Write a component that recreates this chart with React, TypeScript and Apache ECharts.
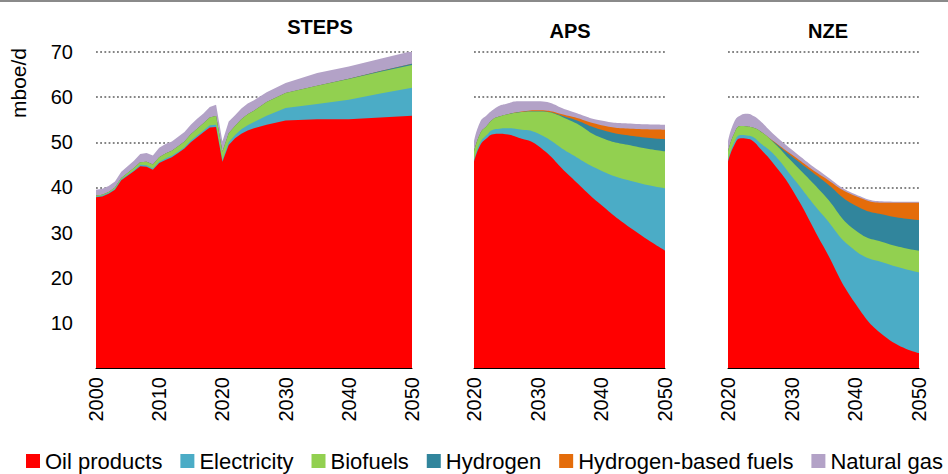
import React, { useEffect, useRef } from 'react';
import * as echarts from 'echarts';

const FONT = "'Liberation Sans', Arial, sans-serif";

const SERIES_NAMES = ['Oil products', 'Electricity', 'Biofuels', 'Hydrogen', 'Hydrogen-based fuels', 'Natural gas'];
const COLORS = ['#FF0000', '#4BACC6', '#92D050', '#31859C', '#E46C0A', '#B3A2C7'];
const PANEL_TITLES = ['STEPS', 'APS', 'NZE'];

// STEPS (historical 2000-2022, projections thereafter)
const stepsYears = [
  2000, 2001, 2002, 2003, 2004, 2005, 2006, 2007, 2008, 2009,
  2010, 2011, 2012, 2013, 2014, 2015, 2016, 2017, 2018, 2019,
  2020, 2021, 2022, 2023, 2024, 2025, 2027, 2030, 2035, 2040, 2045, 2050,
];
const stepsOil = [
  37.8, 38.0, 38.6, 39.5, 41.6, 42.6, 43.6, 44.7, 44.6, 43.9,
  45.4, 46.1, 46.7, 47.6, 48.6, 50.0, 51.1, 52.2, 53.3, 53.4,
  45.7, 49.4, 50.9, 51.9, 52.6, 53.1, 53.9, 54.8, 55.1, 55.1, 55.5, 55.9,
];
const stepsElec = [
  0.2, 0.2, 0.2, 0.2, 0.2, 0.2, 0.2, 0.3, 0.3, 0.3,
  0.3, 0.3, 0.3, 0.3, 0.3, 0.4, 0.4, 0.4, 0.5, 0.5,
  0.4, 0.6, 0.7, 1.0, 1.2, 1.4, 2.0, 2.8, 3.4, 4.3, 5.3, 6.2,
];
const stepsBio = [
  0.2, 0.2, 0.2, 0.3, 0.3, 0.4, 0.5, 0.6, 0.8, 0.9,
  1.0, 1.1, 1.1, 1.2, 1.3, 1.4, 1.5, 1.6, 1.7, 1.9,
  1.8, 2.0, 2.0, 2.2, 2.4, 2.5, 3.0, 3.3, 4.0, 4.6, 4.8, 5.0,
];
const stepsH2 = [
  0, 0, 0, 0, 0, 0, 0, 0, 0, 0,
  0, 0, 0, 0, 0, 0, 0, 0, 0, 0,
  0, 0, 0, 0, 0, 0, 0, 0.02, 0.05, 0.1, 0.2, 0.3,
];
const stepsHbf = [
  0, 0, 0, 0, 0, 0, 0, 0, 0, 0,
  0, 0, 0, 0, 0, 0, 0, 0, 0, 0,
  0, 0, 0, 0, 0, 0, 0, 0, 0, 0, 0, 0,
];
const stepsGas = [
  1.3, 1.3, 1.3, 1.3, 1.4, 1.5, 1.6, 1.8, 1.9, 2.0,
  2.1, 2.1, 2.1, 2.1, 2.1, 2.1, 2.2, 2.2, 2.3, 2.5,
  2.3, 2.6, 2.4, 2.4, 2.4, 2.3, 2.2, 2.2, 2.8, 2.7, 2.7, 2.8,
];

// APS
const apsYears = [2020, 2021, 2022, 2023, 2024, 2025, 2027, 2030, 2035, 2040, 2045, 2050];
const apsOil = [45.7, 49.4, 50.9, 51.8, 51.9, 51.8, 51.0, 49.3, 42.6, 36.1, 30.6, 26.0];
const apsElec = [0.4, 0.6, 0.7, 1.0, 1.1, 1.3, 1.9, 2.7, 5.0, 7.6, 10.7, 13.8];
const apsBio = [1.8, 2.0, 2.0, 2.3, 2.7, 3.0, 3.7, 4.8, 7.3, 7.3, 7.9, 8.2];
const apsH2 = [0, 0, 0, 0, 0, 0, 0.05, 0.1, 0.5, 1.8, 2.2, 2.7];
const apsHbf = [0, 0, 0, 0, 0, 0, 0.05, 0.2, 0.4, 1.0, 1.6, 2.1];
const apsGas = [2.3, 2.6, 2.4, 2.1, 2.4, 2.4, 2.4, 2.0, 1.2, 1.0, 1.1, 1.1];

// NZE
const nzeYears = [2020, 2021, 2022, 2023, 2024, 2025, 2027, 2030, 2035, 2040, 2045, 2050];
const nzeOil = [45.7, 49.4, 50.9, 50.8, 50.2, 48.7, 45.5, 39.7, 26.9, 14.3, 6.6, 3.3];
const nzeElec = [0.4, 0.6, 0.7, 0.7, 0.9, 1.2, 2.1, 2.8, 6.8, 11.7, 16.5, 17.9];
const nzeBio = [1.8, 2.0, 2.0, 2.0, 2.1, 2.6, 2.6, 3.3, 4.8, 4.5, 4.5, 4.8];
const nzeH2 = [0, 0, 0, 0, 0, 0, 0.1, 1.1, 3.0, 5.5, 6.2, 6.8];
const nzeHbf = [0, 0, 0, 0, 0, 0, 0.1, 0.4, 0.8, 2.1, 2.8, 3.8];
const nzeGas = [2.3, 2.6, 2.4, 2.8, 2.6, 2.3, 1.6, 1.1, 0.7, 0.4, 0.3, 0.2];

const Y_MIN = 0;
const Y_MAX = 70;
const Y_STEP = 10;

// Stacked areas: each layer is drawn from 0 up to its cumulative total,
// top layer first so the lower layers paint over it.
function makeSeries(gridIdx: number, years: number[], arrays: number[][], smooth: number | boolean) {
  const cum: number[][] = [];
  arrays.forEach((vals, k) => {
    cum.push(vals.map((v, i) => (k === 0 ? 0 : cum[k - 1][i]) + v));
  });
  const out: any[] = [];
  for (let k = arrays.length - 1; k >= 0; k--) {
    out.push({
      name: SERIES_NAMES[k],
      type: 'line',
      xAxisIndex: gridIdx,
      yAxisIndex: gridIdx,
      smooth,
      symbol: 'none',
      showSymbol: false,
      silent: true,
      lineStyle: { width: 0, color: COLORS[k] },
      itemStyle: { color: COLORS[k] },
      areaStyle: { color: COLORS[k], opacity: 1 },
      emphasis: { disabled: true },
      data: years.map((y, i) => [y, +cum[k][i].toFixed(3)]),
    });
  }
  return out;
}

function buildOption() {
  const grids = [
    { left: 96, top: 52, width: 316, height: 316 },
    { left: 474, top: 52, width: 191, height: 316 },
    { left: 728, top: 52, width: 191, height: 316 },
  ];
  const xMins = [2000, 2020, 2020];
  const xAxis = grids.map((_, i) => ({
    type: 'value',
    gridIndex: i,
    min: xMins[i],
    max: 2050,
    interval: 10,
    z: 5,
    axisLine: { show: true, onZero: false, lineStyle: { color: '#000', width: 1 } },
    axisTick: { show: false },
    splitLine: { show: false },
    axisLabel: {
      rotate: 90,
      fontSize: 20,
      color: '#000',
      margin: 9,
      fontFamily: FONT,
      formatter: (v: number) => String(v),
    },
  }));
  const yAxis = grids.map((_, i) => ({
    type: 'value',
    gridIndex: i,
    min: Y_MIN,
    max: Y_MAX,
    interval: Y_STEP,
    axisLine: { show: false },
    axisTick: { show: false },
    axisLabel: {
      show: i === 0,
      fontSize: 20,
      color: '#000',
      margin: 23,
      fontFamily: FONT,
      formatter: (v: number) => (v === 0 ? '' : String(v)),
    },
    splitLine: {
      show: true,
      lineStyle: { color: '#858585', width: 1.8, type: [1.8, 2.4] },
    },
  }));

  const series = [
    ...makeSeries(0, stepsYears, [stepsOil, stepsElec, stepsBio, stepsH2, stepsHbf, stepsGas], false),
    ...makeSeries(1, apsYears, [apsOil, apsElec, apsBio, apsH2, apsHbf, apsGas], 0.5),
    ...makeSeries(2, nzeYears, [nzeOil, nzeElec, nzeBio, nzeH2, nzeHbf, nzeGas], 0.5),
  ];

  const titlePos = [
    { x: 320, y: 27 },
    { x: 570, y: 31 },
    { x: 828, y: 31 },
  ];

  return {
    animation: false,
    backgroundColor: '#fff',
    grid: grids,
    xAxis,
    yAxis,
    legend: {
      data: SERIES_NAMES,
      left: 26,
      top: 450,
      padding: 0,
      itemWidth: 14,
      itemHeight: 14,
      itemGap: 18,
      icon: 'rect',
      selectedMode: false,
      textStyle: { fontSize: 22, color: '#000', fontFamily: FONT },
    },
    graphic: [
      { type: 'rect', left: 0, top: 0, shape: { x: 0, y: 0, width: 948, height: 2 }, style: { fill: '#8a8a8a' } },
      ...PANEL_TITLES.map((t, i) => ({
        type: 'text',
        x: titlePos[i].x,
        y: titlePos[i].y,
        style: {
          text: t,
          fontSize: 20,
          fontWeight: 'bold',
          fontFamily: FONT,
          fill: '#000',
          textAlign: 'center',
          textVerticalAlign: 'middle',
          verticalAlign: 'middle',
        },
      })),
      {
        type: 'text',
        x: 18,
        y: 83,
        rotation: Math.PI / 2,
        style: {
          text: 'mboe/d',
          fontSize: 21,
          fontFamily: FONT,
          fill: '#000',
          textAlign: 'center',
          textVerticalAlign: 'middle',
          verticalAlign: 'middle',
        },
      },
    ],
    series,
  };
}

export default function App() {
  const ref = useRef<HTMLDivElement>(null);
  useEffect(() => {
    if (!ref.current) return;
    const chart = echarts.init(ref.current, null, { renderer: 'svg' });
    chart.setOption(buildOption() as any);
    return () => chart.dispose();
  }, []);
  return (
    <div
      ref={ref}
      style={{ position: 'fixed', left: 0, top: 0, width: 948, height: 474, background: '#fff' }}
    />
  );
}
